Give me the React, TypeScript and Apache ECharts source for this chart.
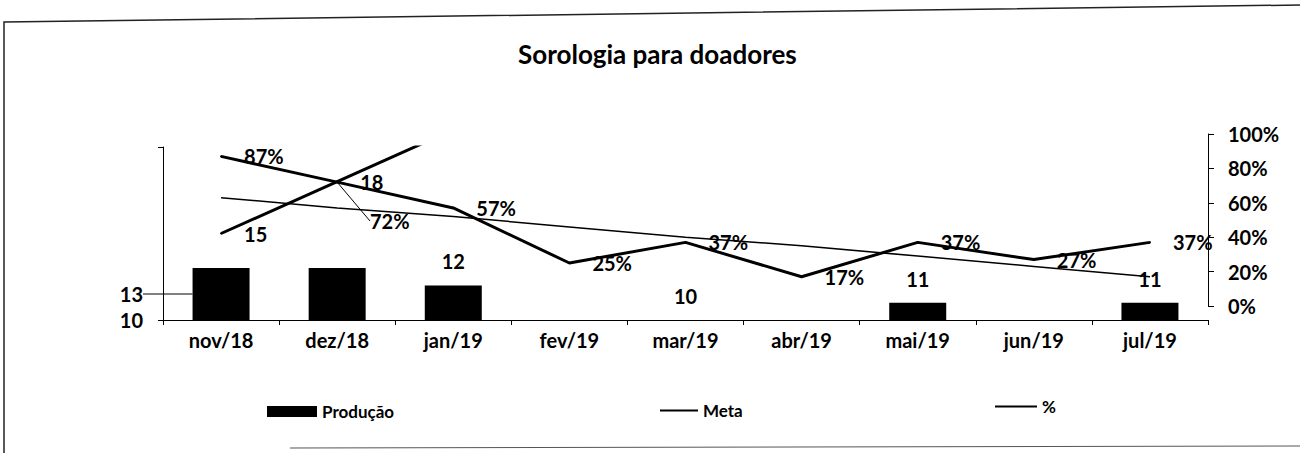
import React, { useEffect, useRef } from "react";
import * as echarts from "echarts";

const categories = ["nov/18", "dez/18", "jan/19", "fev/19", "mar/19", "abr/19", "mai/19", "jun/19", "jul/19"];
const producao: (number | null)[] = [13, 13, 12, null, 10, null, 11, null, 11];
const meta: (number | null)[] = [15, 18, 21, null, null, null, null, null, null];
const percentual = [87, 72, 57, 25, 37, 17, 37, 27, 37];
const tendencia = [63, 57, 52, 46, 40, 35, 29, 23, 17];
const leftAxisLabels = [10];

const FONT = "Lato";
const bold = { fontFamily: FONT, fontWeight: "bold" as const, color: "#000" };

export default function App() {
  const ref = useRef<HTMLDivElement>(null);
  useEffect(() => {
    if (!ref.current) return;
    const chart = echarts.init(ref.current, null, { renderer: "svg" });
    const gridLeft = 163;
    const gridRight = 92;
    chart.setOption({
      animation: false,
      backgroundColor: "#fff",
      title: {
        text: "Sorologia para doadores",
        left: 513,
        top: 36,
        textStyle: { ...bold, fontSize: 26 },
      },
      legend: [
        {
          data: [{ name: "Produção", icon: "rect" }],
          left: 262,
          top: 398,
          itemWidth: 50,
          itemHeight: 11,
          textStyle: { ...bold, fontSize: 17 },
        },
        {
          data: [{ name: "Meta", icon: "rect" }],
          left: 655,
          top: 397,
          itemWidth: 38,
          itemHeight: 2,
          textStyle: { ...bold, fontSize: 17 },
        },
        {
          data: [{ name: "%", icon: "rect" }],
          left: 990,
          top: 393,
          itemWidth: 42,
          itemHeight: 2,
          textStyle: { ...bold, fontSize: 17 },
        },
      ],
      grid: [
        { left: gridLeft, right: gridRight, top: 147, bottom: 133 },
        { left: gridLeft, right: gridRight, top: 134, bottom: 147 },
      ],
      xAxis: [
        {
          type: "category",
          gridIndex: 0,
          data: categories,
          axisLine: { lineStyle: { color: "#000", width: 1 } },
          axisTick: { show: true, length: 5, lineStyle: { color: "#000" } },
          axisLabel: { ...bold, fontSize: 20, margin: 10 },
        },
        {
          type: "category",
          gridIndex: 1,
          data: categories,
          show: false,
        },
      ],
      yAxis: [
        {
          type: "value",
          gridIndex: 0,
          position: "left",
          min: 10,
          max: 20,
          interval: 10,
          splitLine: { show: false },
          axisLine: { show: true, lineStyle: { color: "#000", width: 1 } },
          axisTick: { show: true, length: 5, lineStyle: { color: "#000" } },
          axisLabel: {
            ...bold,
            fontSize: 20,
            margin: 20,
            formatter: (v: number) => (leftAxisLabels.includes(v) ? String(v) : ""),
          },
        },
        {
          type: "value",
          gridIndex: 1,
          position: "right",
          min: 0,
          max: 100,
          interval: 20,
          splitLine: { show: false },
          axisLine: { show: true, lineStyle: { color: "#000", width: 1 } },
          axisTick: { show: true, length: 6, lineStyle: { color: "#000" } },
          axisLabel: { ...bold, fontSize: 20, margin: 20, formatter: "{value}%" },
        },
      ],
      series: [
        {
          name: "Produção",
          type: "bar",
          xAxisIndex: 0,
          yAxisIndex: 0,
          barWidth: 57,
          itemStyle: { color: "#000" },
          label: { show: true, position: "top", distance: 14, ...bold, fontSize: 20 },
          labelLine: { show: false, lineStyle: { color: "#000", width: 1 } },
          labelLayout: (p: any) =>
            p.dataIndex === 0 ? { x: 143, y: 294, align: "right", verticalAlign: "middle" } : {},
          data: producao.map((v, i) =>
            i === 0
              ? { value: v, labelLine: { show: true, lineStyle: { color: "#000", width: 1 } } }
              : i === 1
              ? { value: v, label: { show: false } }
              : v
          ),
        },
        {
          name: "Meta",
          type: "line",
          xAxisIndex: 0,
          yAxisIndex: 0,
          symbol: "circle",
          symbolSize: 2,
          clip: true,
          lineStyle: { color: "#000", width: 3 },
          itemStyle: { color: "#000" },
          label: { show: true, position: "right", distance: 22, ...bold, fontSize: 20 },
          data: meta.map((v) => (v !== null && v > 20 ? { value: v, label: { show: false } } : v)),
          z: 5,
        },
        {
          name: "Tendência",
          type: "line",
          xAxisIndex: 1,
          yAxisIndex: 1,
          symbol: "none",
          lineStyle: { color: "#000", width: 1.5 },
          itemStyle: { color: "#000" },
          data: tendencia,
          z: 4,
        },
        {
          name: "%",
          type: "line",
          xAxisIndex: 1,
          yAxisIndex: 1,
          symbol: "circle",
          symbolSize: 2,
          lineStyle: { color: "#000", width: 3 },
          itemStyle: { color: "#000" },
          label: {
            show: true,
            position: "right",
            distance: 22,
            ...bold,
            fontSize: 20,
            formatter: "{c}%",
          },
          labelLayout: (p: any) =>
            p.dataIndex === 1 ? { x: 370, y: 221, align: "left", verticalAlign: "middle" } : {},
          data: percentual.map((v, i) =>
            i === 1 ? { value: v, labelLine: { show: true, lineStyle: { color: "#000", width: 1 } } } : v
          ),
          z: 6,
        },
      ],
      graphic: [
        {
          type: "polyline",
          shape: { points: [[4, 453], [4, 22], [1300, 5]] },
          style: { stroke: "#222", lineWidth: 1.5, fill: null },
          silent: true,
        },
        {
          type: "line",
          shape: { x1: 290, y1: 448, x2: 1300, y2: 446 },
          style: { stroke: "#555", lineWidth: 1 },
          silent: true,
        },
      ],
    });
    return () => chart.dispose();
  }, []);
  return (
    <div
      ref={ref}
      style={{ position: "fixed", left: 0, top: 0, width: 1300, height: 453, background: "#fff" }}
    />
  );
}
